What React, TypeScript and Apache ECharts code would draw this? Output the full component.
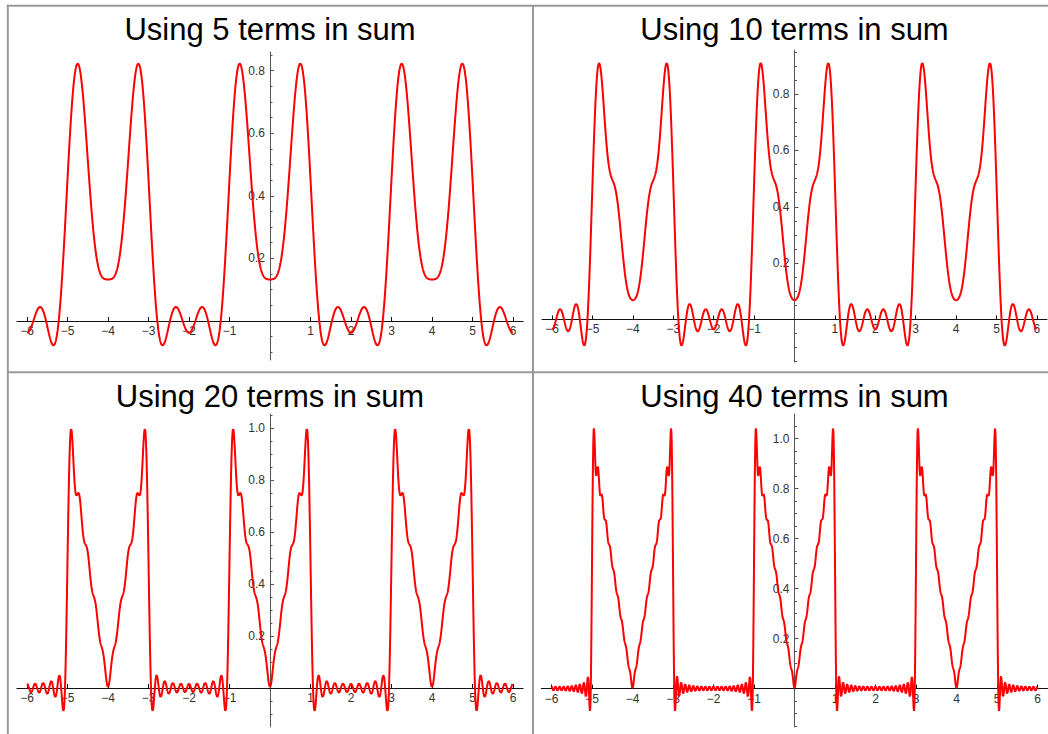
import { useEffect, useRef } from "react";
import * as echarts from "echarts";

// ---- data ----
const termCounts = [5, 10, 20, 40];
const panelTitles = ["Using 5 terms in sum", "Using 10 terms in sum", "Using 20 terms in sum", "Using 40 terms in sum"];
// target function of the Fourier sums: |x| on [-1,1], 0 on 1<|x|<2, period 4
const period = 4;
const rampHalfWidth = 1;
const plotDomain = [-6, 6];
const sampleStep = 0.005;
const xTickValues = [-6, -5, -4, -3, -2, -1, 1, 2, 3, 4, 5, 6];
const yMajorTicks = [
  [0.2, 0.4, 0.6, 0.8],
  [0.2, 0.4, 0.6, 0.8],
  [0.2, 0.4, 0.6, 0.8, 1.0],
  [0.2, 0.4, 0.6, 0.8, 1.0],
];
const yMinorTicks = [
  [-0.1, -0.05, 0.05, 0.1, 0.15, 0.25, 0.3, 0.35, 0.45, 0.5, 0.55, 0.65, 0.7, 0.75, 0.85],
  [-0.15, -0.1, -0.05, 0.05, 0.1, 0.15, 0.25, 0.3, 0.35, 0.45, 0.5, 0.55, 0.65, 0.7, 0.75, 0.85, 0.9, 0.95],
  [-0.1, -0.05, 0.05, 0.1, 0.15, 0.25, 0.3, 0.35, 0.45, 0.5, 0.55, 0.65, 0.7, 0.75, 0.85, 0.9, 0.95, 1.05],
  [-0.15, -0.1, -0.05, 0.05, 0.1, 0.15, 0.25, 0.3, 0.35, 0.45, 0.5, 0.55, 0.65, 0.7, 0.75, 0.85, 0.9, 0.95, 1.05],
];
const xRanges = [[-6.25, 6.25], [-6.25, 6.25], [-6.25, 6.25], [-6.25, 6.25]];
const yRanges = [[-0.1246, 0.8594], [-0.1509, 0.9567], [-0.15, 1.0538], [-0.154, 1.098]];

// ---- layout (pixels) ----
const plotRects = [
  { left: 16.875, top: 52, width: 506.25, height: 308 },
  { left: 542, top: 50, width: 505, height: 312 },
  { left: 16.875, top: 414, width: 506.25, height: 313 },
  { left: 541.375, top: 414, width: 506.25, height: 313 },
];
const titlePos = [
  [270, 29],
  [794.5, 29],
  [270, 396],
  [794.5, 396],
];

function fourierCoef(n: number): number {
  const k = (2 * Math.PI * n) / period;
  const r = rampHalfWidth;
  return (4 / period) * ((r * Math.sin(k * r)) / k + (Math.cos(k * r) - 1) / (k * k));
}

function partialSum(terms: number): number[][] {
  const c0 = (rampHalfWidth * rampHalfWidth) / period;
  const coefs: number[] = [];
  for (let n = 1; n <= terms; n++) coefs.push(fourierCoef(n));
  const pts: number[][] = [];
  const count = Math.round((plotDomain[1] - plotDomain[0]) / sampleStep);
  for (let i = 0; i <= count; i++) {
    const x = plotDomain[0] + i * sampleStep;
    let y = c0;
    for (let n = 1; n <= terms; n++) y += coefs[n - 1] * Math.cos((2 * Math.PI * n * x) / period);
    pts.push([x, y]);
  }
  return pts;
}

const FONT = '"Liberation Sans", Arial, sans-serif';
const AXIS_X_COLOR = "#111";
const AXIS_Y_COLOR = "#555";
const LABEL_COLOR = "#333";

export default function App() {
  const ref = useRef<HTMLDivElement>(null);
  useEffect(() => {
    if (!ref.current) return;
    const chart = echarts.init(ref.current, undefined, { renderer: "svg" });
    const grid: any[] = [];
    const xAxis: any[] = [];
    const yAxis: any[] = [];
    const series: any[] = [];
    const hiddenAxis = (gi: number, min: number, max: number) => ({
      type: "value",
      gridIndex: gi,
      min,
      max,
      show: false,
      splitLine: { show: false },
    });

    termCounts.forEach((terms, i) => {
      const r = plotRects[i];
      const [xmin, xmax] = xRanges[i];
      const [ymin, ymax] = yRanges[i];
      const x0 = r.left + (r.width * (0 - xmin)) / (xmax - xmin);
      const y0 = r.top + (r.height * ymax) / (ymax - ymin);

      // grid A: the plot area holding the curve
      const gA = grid.length;
      grid.push({ left: r.left, top: r.top, width: r.width, height: r.height, containLabel: false, outerBoundsMode: "none" });
      const xA = xAxis.length;
      xAxis.push(hiddenAxis(gA, xmin, xmax));
      const yA = yAxis.length;
      yAxis.push(hiddenAxis(gA, ymin, ymax));
      series.push({
        type: "line",
        xAxisIndex: xA,
        yAxisIndex: yA,
        data: partialSum(terms),
        showSymbol: false,
        symbol: "none",
        lineStyle: { color: "#ff0000", width: 2 },
        z: 5,
      });

      // grid B: its left edge is x = 0, carries the vertical axis
      const gB = grid.length;
      grid.push({ left: x0, top: r.top, width: 50, height: r.height, containLabel: false, outerBoundsMode: "none" });
      xAxis.push(hiddenAxis(gB, 0, 1));
      yAxis.push({
        type: "value",
        gridIndex: gB,
        position: "left",
        min: ymin,
        max: ymax,
        splitLine: { show: false },
        axisLine: { show: true, onZero: false, lineStyle: { color: AXIS_Y_COLOR, width: 1 } },
        axisTick: { show: true, inside: true, length: 4, customValues: yMajorTicks[i], lineStyle: { color: AXIS_Y_COLOR } },
        axisLabel: {
          customValues: yMajorTicks[i],
          margin: 5,
          color: LABEL_COLOR,
          fontSize: 12,
          fontFamily: FONT,
          formatter: (v: number) => v.toFixed(1),
        },
      });
      yAxis.push({
        type: "value",
        gridIndex: gB,
        position: "left",
        offset: 0,
        min: ymin,
        max: ymax,
        splitLine: { show: false },
        axisLine: { show: false, onZero: false },
        axisTick: { show: true, inside: true, length: 2.5, customValues: yMinorTicks[i], lineStyle: { color: AXIS_Y_COLOR } },
        axisLabel: { show: false },
      });

      // grid C: its bottom edge is y = 0, carries the horizontal axis
      const gC = grid.length;
      grid.push({ left: r.left, top: r.top, width: r.width, height: y0 - r.top, containLabel: false, outerBoundsMode: "none" });
      xAxis.push({
        type: "value",
        gridIndex: gC,
        position: "bottom",
        min: xmin,
        max: xmax,
        splitLine: { show: false },
        axisLine: { show: true, onZero: false, lineStyle: { color: AXIS_X_COLOR, width: 1 } },
        axisTick: { show: true, inside: true, length: 4, customValues: xTickValues, lineStyle: { color: AXIS_X_COLOR } },
        axisLabel: {
          customValues: xTickValues,
          margin: 4,
          color: LABEL_COLOR,
          fontSize: 12,
          fontFamily: FONT,
          formatter: (v: number) => String(v).replace("-", "\u2212"),
        },
      });
      yAxis.push(hiddenAxis(gC, 0, 1));
    });

    const lineStyle = { stroke: "#999", lineWidth: 2 };
    const graphic: any[] = [
      { type: "line", shape: { x1: 7.8, y1: 4.8, x2: 7.8, y2: 734 }, style: lineStyle },
      { type: "line", shape: { x1: 6.8, y1: 5.8, x2: 1048, y2: 5.8 }, style: lineStyle },
      { type: "line", shape: { x1: 533, y1: 5, x2: 533, y2: 734 }, style: lineStyle },
      { type: "line", shape: { x1: 7, y1: 372.3, x2: 1048, y2: 372.3 }, style: lineStyle },
    ];
    panelTitles.forEach((t, i) => {
      graphic.push({
        type: "text",
        x: titlePos[i][0],
        y: titlePos[i][1],
        style: {
          text: t,
          fill: "#000",
          fontSize: 31,
          fontFamily: FONT,
          align: "center",
          verticalAlign: "middle",
        },
      });
    });

    chart.setOption({
      animation: false,
      backgroundColor: "#fff",
      grid,
      xAxis,
      yAxis,
      series,
      graphic,
    });
    return () => chart.dispose();
  }, []);
  return <div ref={ref} style={{ position: "fixed", left: 0, top: 0, width: 1048, height: 734 }} />;
}
